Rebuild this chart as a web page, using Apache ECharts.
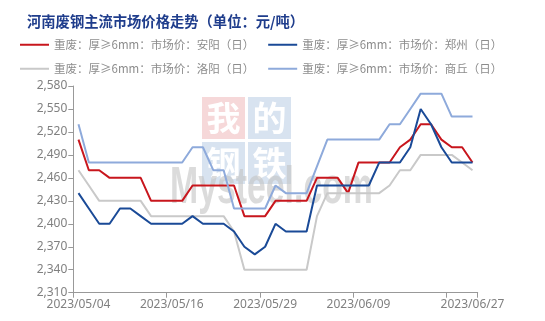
<!DOCTYPE html>
<html>
<head>
<meta charset="utf-8">
<script src="https://cdn.jsdelivr.net/npm/echarts@6/dist/echarts.min.js"></script>
<style>html,body{margin:0;padding:0;background:#fff;}#c{width:545px;height:321px;}</style>
</head>
<body>
<div id="c"></div>
<script>
const titleText = '河南废钢主流市场价格走势（单位：元/吨）';
const dates = ['2023/05/04','2023/05/05','2023/05/06','2023/05/08','2023/05/09','2023/05/10','2023/05/11','2023/05/12','2023/05/15','2023/05/16',
  '2023/05/17','2023/05/18','2023/05/19','2023/05/22','2023/05/23','2023/05/24','2023/05/25','2023/05/26','2023/05/29','2023/05/30',
  '2023/05/31','2023/06/01','2023/06/02','2023/06/05','2023/06/06','2023/06/07','2023/06/08','2023/06/09','2023/06/12','2023/06/13',
  '2023/06/14','2023/06/15','2023/06/16','2023/06/19','2023/06/20','2023/06/21','2023/06/25','2023/06/26','2023/06/27'];
const shownLabels = ['2023/05/04','2023/05/16','2023/05/29','2023/06/09','2023/06/27'];
const seriesNames = ['重废：厚≥6mm：市场价：安阳（日）','重废：厚≥6mm：市场价：郑州（日）','重废：厚≥6mm：市场价：洛阳（日）','重废：厚≥6mm：市场价：商丘（日）'];
const anyang = [2510,2470,2470,2460,2460,2460,2460,2430,2430,2430,
  2430,2450,2450,2450,2450,2450,2410,2410,2410,2430,
  2430,2430,2430,2460,2460,2460,2440,2480,2480,2480,
  2480,2500,2510,2530,2530,2510,2500,2500,2480];
const zhengzhou = [2440,2420,2400,2400,2420,2420,2410,2400,2400,2400,
  2400,2410,2400,2400,2400,2390,2370,2360,2370,2400,
  2390,2390,2390,2450,2450,2450,2450,2450,2450,2480,
  2480,2480,2500,2550,2530,2500,2480,2480,2480];
const luoyang = [2470,2450,2430,2430,2430,2430,2430,2410,2410,2410,
  2410,2410,2410,2410,2410,2390,2340,2340,2340,2340,
  2340,2340,2340,2410,2440,2440,2440,2440,2440,2440,
  2450,2470,2470,2490,2490,2490,2490,2480,2470];
const shangqiu = [2530,2480,2480,2480,2480,2480,2480,2480,2480,2480,
  2480,2500,2500,2470,2470,2420,2420,2420,2420,2450,
  2440,2440,2440,2475,2510,2510,2510,2510,2510,2510,
  2530,2530,2550,2570,2570,2570,2540,2540,2540];
const yMin = 2310, yMax = 2580, yStep = 30;
const colors = ['#c8161d','#1a4a97','#c9c9c9','#8eaadb'];

const chart = echarts.init(document.getElementById('c'), null, {renderer:'canvas'});
const values = [anyang, zhengzhou, luoyang, shangqiu];
const legendText = {color:'#8c8c8c', fontSize:11.5, fontFamily:'Noto Sans CJK SC'};
const wm = (ch, x, y, fill) => ([
  {type:'rect', shape:{x:x, y:y, width:43, height:42}, style:{fill:fill}, z:0, silent:true},
  {type:'text', x:x+21.5, y:y+21, style:{text:ch, fill:'#ffffff', fontSize:34, fontWeight:'bold', fontFamily:'Noto Sans CJK SC', align:'center', verticalAlign:'middle'}, z:0, silent:true}
]);
chart.setOption({
  animation:false,
  backgroundColor:'#ffffff',
  title:{text:titleText, left:27, top:14, padding:0,
    textStyle:{color:'#1f3d8c', fontSize:14.3, fontWeight:'bold', fontFamily:'Noto Sans CJK SC'}},
  legend:[
    {data:seriesNames.slice(0,2), left:20, top:39, padding:0, icon:'rect', itemWidth:29, itemHeight:2, itemGap:14, textStyle:legendText},
    {data:seriesNames.slice(2,4), left:20, top:63, padding:0, icon:'rect', itemWidth:29, itemHeight:2, itemGap:14, textStyle:legendText}
  ],
  graphic:[].concat(
    wm('我',202,97,'#f6d8d9'), wm('的',248,97,'#d8e3f0'),
    wm('钢',202,142,'#d8e3f0'), wm('铁',248,142,'#d8e3f0'),
    [{type:'text', x:170, y:189, scaleX:0.65, z:0, silent:true,
      style:{text:'Mysteel.com', fill:'rgba(195,195,195,0.6)', fontSize:52, fontWeight:'bold', fontFamily:'Liberation Sans', verticalAlign:'middle'}}]
  ),
  grid:{left:73.3, right:67.3, top:86, bottom:28.3, containLabel:false},
  xAxis:{type:'category', data:dates, boundaryGap:true,
    axisLine:{show:true, lineStyle:{color:'#999999', width:1}},
    axisTick:{show:true, length:5, lineStyle:{color:'#999999'}, interval:(i)=> i % 9 === 0},
    axisLabel:{color:'#808080', fontSize:12, fontFamily:'Noto Sans', margin:6,
      interval:(i, v)=> shownLabels.indexOf(v) >= 0}
  },
  yAxis:{type:'value', min:yMin, max:yMax, interval:yStep,
    axisLine:{show:true, lineStyle:{color:'#999999', width:1}},
    axisTick:{show:true, length:5, lineStyle:{color:'#999999'}},
    splitLine:{show:false},
    axisLabel:{color:'#808080', fontSize:12, fontFamily:'Noto Sans', margin:6}
  },
  series: seriesNames.map((n, k) => ({
    name:n, type:'line', data:values[k], symbol:'none', z:3 + (k===1?1:0),
    lineStyle:{color:colors[k], width:2}, itemStyle:{color:colors[k]}
  }))
});
</script>
</body>
</html>
